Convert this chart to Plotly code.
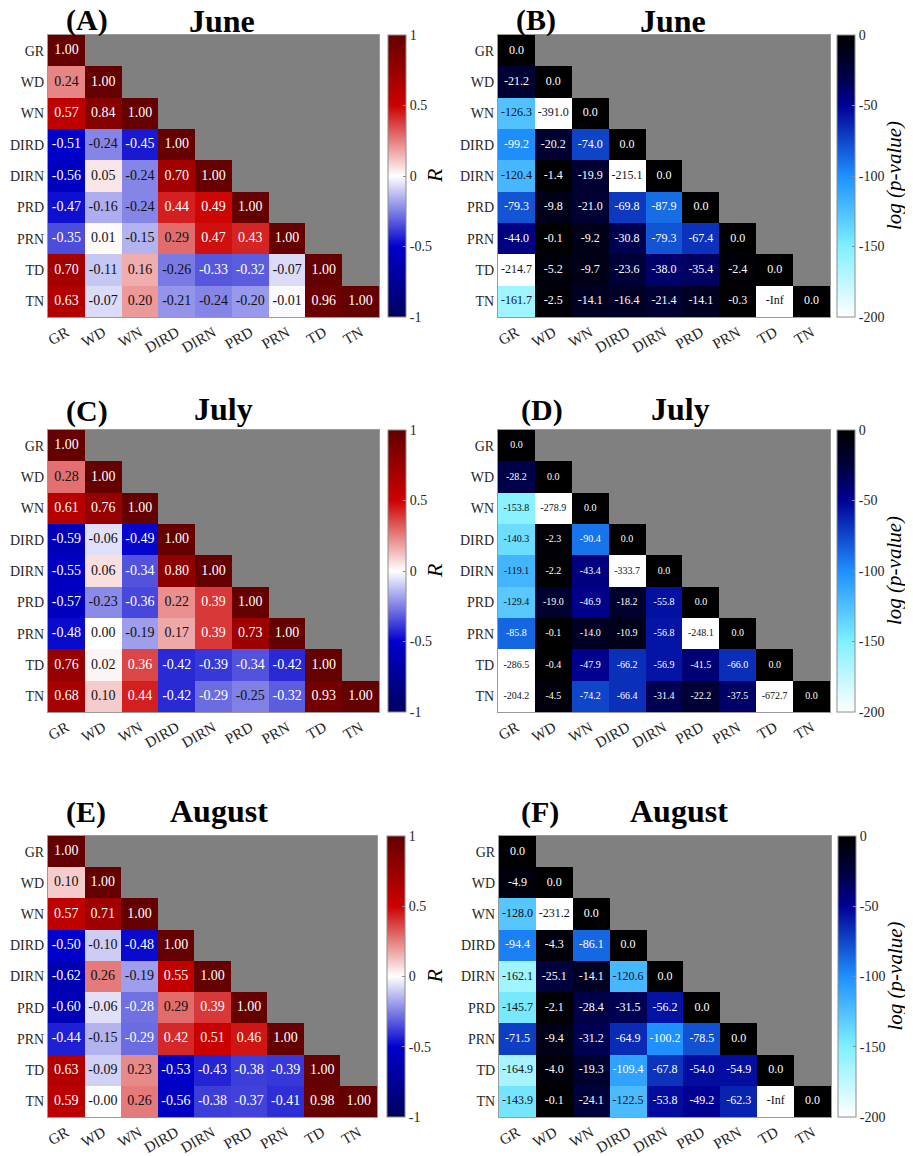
import plotly.graph_objects as go

# =====================================================
# Data (lower triangle of each matrix, row by row)
# =====================================================

LABELS = ["GR", "WD", "WN", "DIRD", "DIRN", "PRD", "PRN", "TD", "TN"]
MONTHS = ["June", "July", "August"]
TAGS = ["(A)", "(B)", "(C)", "(D)", "(E)", "(F)"]

NEG_INF = float("-inf")

june_r = [
    [1.00],
    [0.24, 1.00],
    [0.57, 0.84, 1.00],
    [-0.51, -0.24, -0.45, 1.00],
    [-0.56, 0.05, -0.24, 0.70, 1.00],
    [-0.47, -0.16, -0.24, 0.44, 0.49, 1.00],
    [-0.35, 0.01, -0.15, 0.29, 0.47, 0.43, 1.00],
    [0.70, -0.11, 0.16, -0.26, -0.33, -0.32, -0.07, 1.00],
    [0.63, -0.07, 0.20, -0.21, -0.24, -0.20, -0.01, 0.96, 1.00],
]

july_r = [
    [1.00],
    [0.28, 1.00],
    [0.61, 0.76, 1.00],
    [-0.59, -0.06, -0.49, 1.00],
    [-0.55, 0.06, -0.34, 0.80, 1.00],
    [-0.57, -0.23, -0.36, 0.22, 0.39, 1.00],
    [-0.48, 0.00, -0.19, 0.17, 0.39, 0.73, 1.00],
    [0.76, 0.02, 0.36, -0.42, -0.39, -0.34, -0.42, 1.00],
    [0.68, 0.10, 0.44, -0.42, -0.29, -0.25, -0.32, 0.93, 1.00],
]

aug_r = [
    [1.00],
    [0.10, 1.00],
    [0.57, 0.71, 1.00],
    [-0.50, -0.10, -0.48, 1.00],
    [-0.62, 0.26, -0.19, 0.55, 1.00],
    [-0.60, -0.06, -0.28, 0.29, 0.39, 1.00],
    [-0.44, -0.15, -0.29, 0.42, 0.51, 0.46, 1.00],
    [0.63, -0.09, 0.23, -0.53, -0.43, -0.38, -0.39, 1.00],
    [0.59, -0.0, 0.26, -0.56, -0.38, -0.37, -0.41, 0.98, 1.00],
]

june_p = [
    [0.0],
    [-21.2, 0.0],
    [-126.3, -391.0, 0.0],
    [-99.2, -20.2, -74.0, 0.0],
    [-120.4, -1.4, -19.9, -215.1, 0.0],
    [-79.3, -9.8, -21.0, -69.8, -87.9, 0.0],
    [-44.0, -0.1, -9.2, -30.8, -79.3, -67.4, 0.0],
    [-214.7, -5.2, -9.7, -23.6, -38.0, -35.4, -2.4, 0.0],
    [-161.7, -2.5, -14.1, -16.4, -21.4, -14.1, -0.3, NEG_INF, 0.0],
]

july_p = [
    [0.0],
    [-28.2, 0.0],
    [-153.8, -278.9, 0.0],
    [-140.3, -2.3, -90.4, 0.0],
    [-119.1, -2.2, -43.4, -333.7, 0.0],
    [-129.4, -19.0, -46.9, -18.2, -55.8, 0.0],
    [-85.8, -0.1, -14.0, -10.9, -56.8, -248.1, 0.0],
    [-286.5, -0.4, -47.9, -66.2, -56.9, -41.5, -66.0, 0.0],
    [-204.2, -4.5, -74.2, -66.4, -31.4, -22.2, -37.5, -672.7, 0.0],
]

aug_p = [
    [0.0],
    [-4.9, 0.0],
    [-128.0, -231.2, 0.0],
    [-94.4, -4.3, -86.1, 0.0],
    [-162.1, -25.1, -14.1, -120.6, 0.0],
    [-145.7, -2.1, -28.4, -31.5, -56.2, 0.0],
    [-71.5, -9.4, -31.2, -64.9, -100.2, -78.5, 0.0],
    [-164.9, -4.0, -19.3, -109.4, -67.8, -54.0, -54.9, 0.0],
    [-143.9, -0.1, -24.1, -122.5, -53.8, -49.2, -62.3, NEG_INF, 0.0],
]

# =====================================================
# Styles
# =====================================================

# the page body keeps an 8 px margin, so the figure is a little smaller
# than the window and all window positions are shifted by that margin
PAGE_PAD = 8
W, H = 913 - PAGE_PAD, 1156 - PAGE_PAD
SERIF = "Liberation Serif, Times New Roman, serif"

R_SCALE = [
    [0.0, "rgb(0,0,95)"],
    [0.25, "rgb(0,0,205)"],
    [0.5, "rgb(255,255,255)"],
    [0.75, "rgb(205,0,0)"],
    [1.0, "rgb(100,0,0)"],
]

P_SCALE = [
    [0.0, "rgb(255,255,255)"],
    [0.25, "rgb(128,240,255)"],
    [0.5, "rgb(30,144,255)"],
    [0.75, "rgb(0,0,150)"],
    [0.875, "rgb(0,0,60)"],
    [1.0, "rgb(0,0,0)"],
]

# heatmap boxes in window pixels: left, top, right, bottom
BOXES = [
    (48, 35, 379, 317), (498, 35, 830, 317),
    (48, 430, 379, 712), (498, 430, 830, 712),
    (48, 836, 377, 1117), (499, 836, 831, 1117),
]
CBAR_X = [388, 837, 388, 837, 387, 838]
CBAR_TITLE_X = [434, 894, 434, 894, 434, 894]
CBAR_TITLE_SIZE = [22, 21, 22, 21, 22, 21]
TAG_POS = [(87, 20), (536, 20), (87, 411), (542, 410), (86, 812), (540, 812)]
MONTH_POS = [(222, 21), (673, 21), (223, 409), (680, 409), (219, 811), (679, 811)]
CELL_FONT = [14, 12, 14, 10, 14, 12]


def fx(px):
    return (px - PAGE_PAD) / W


def fy(py):
    return 1 - (py - PAGE_PAD) / H


fig = go.Figure()

panels = [
    ("r", june_r), ("p", june_p),
    ("r", july_r), ("p", july_p),
    ("r", aug_r), ("p", aug_p),
]

for k, (kind, rows) in enumerate(panels):
    n = k + 1
    xa, ya = f"x{n}", f"y{n}"
    left, top, right, bottom = BOXES[k]

    z, tx, ty, tt, tc = [], [], [], [], []
    for i, lab_y in enumerate(LABELS):
        zrow = []
        for j, lab_x in enumerate(LABELS):
            if j > i:
                zrow.append(None)
                continue
            v = rows[i][j]
            if kind == "r":
                zrow.append(v)
                tt.append(f"{v:.2f}")
                dark = v > 0.32 or v < -0.27
            else:
                zrow.append(max(v, -200))
                tt.append("-Inf" if v == NEG_INF else f"{v:.1f}")
                dark = v >= -110
            tx.append(lab_x)
            ty.append(lab_y)
            tc.append("white" if dark else "#111111")
        z.append(zrow)

    if kind == "r":
        cb = dict(tickvals=[-1, -0.5, 0, 0.5, 1],
                  ticktext=["-1", "-0.5", "0", "0.5", "1"])
        zmin, zmax, scale = -1, 1, R_SCALE
        cb_title = "<i>R</i>"
    else:
        cb = dict(tickvals=[-200, -150, -100, -50, 0],
                  ticktext=["-200", "-150", "-100", "-50", "0"])
        zmin, zmax, scale = -200, 0, P_SCALE
        cb_title = "<i>log (p-value)</i>"

    cb.update(
        x=fx(CBAR_X[k]), xanchor="left", xpad=0, ypad=0,
        y=fy((top + bottom) / 2), yanchor="middle",
        len=(bottom - top) / H, lenmode="fraction",
        thickness=18, thicknessmode="pixels",
        outlinewidth=1, outlinecolor="#8c8c8c",
        ticks="inside", ticklen=3, tickcolor="#8c8c8c",
        tickfont=dict(family=SERIF, size=14, color="#262626"),
    )

    fig.add_trace(go.Heatmap(
        z=z, x=LABELS, y=LABELS,
        zmin=zmin, zmax=zmax, colorscale=scale,
        colorbar=cb, hoverinfo="skip",
        xaxis=xa, yaxis=ya,
    ))

    fig.add_trace(go.Scatter(
        x=tx, y=ty, text=tt, mode="text",
        textfont=dict(family=SERIF, size=CELL_FONT[k], color=tc),
        hoverinfo="skip", showlegend=False,
        xaxis=xa, yaxis=ya,
    ))

    axis_common = dict(
        type="category", categoryarray=LABELS,
        showgrid=False, zeroline=False, ticks="",
        showline=True, mirror=True, linecolor="#9a9a9a", linewidth=1,
    )
    fig.update_layout({
        f"xaxis{n}": dict(axis_common, domain=[fx(left), fx(right)],
                          anchor=ya, tickangle=-30,
                          tickfont=dict(family=SERIF, size=15, color="#262626")),
        f"yaxis{n}": dict(axis_common, domain=[fy(bottom), fy(top)],
                          anchor=xa, autorange="reversed",
                          tickfont=dict(family=SERIF, size=14, color="#262626")),
    })

    # colour bar label, rotated to read bottom to top
    fig.add_annotation(
        text=cb_title, xref="paper", yref="paper",
        x=fx(CBAR_TITLE_X[k]), y=fy((top + bottom) / 2),
        xanchor="center", yanchor="middle", textangle=-90, showarrow=False,
        font=dict(family=SERIF, size=CBAR_TITLE_SIZE[k], color="black"),
    )

    fig.add_annotation(
        text=f"<b>{TAGS[k]}</b>", xref="paper", yref="paper",
        x=fx(TAG_POS[k][0]), y=fy(TAG_POS[k][1]),
        xanchor="center", yanchor="middle", showarrow=False,
        font=dict(family=SERIF, size=30, color="black"),
    )
    fig.add_annotation(
        text=f"<b>{MONTHS[k // 2]}</b>", xref="paper", yref="paper",
        x=fx(MONTH_POS[k][0]), y=fy(MONTH_POS[k][1]),
        xanchor="center", yanchor="middle", showarrow=False,
        font=dict(family=SERIF, size=32, color="black"),
    )

fig.update_layout(
    width=W, height=H,
    margin=dict(l=0, r=0, t=0, b=0, autoexpand=False),
    paper_bgcolor="white",
    plot_bgcolor="#808080",
    showlegend=False,
)

fig.write_html("out.html")
